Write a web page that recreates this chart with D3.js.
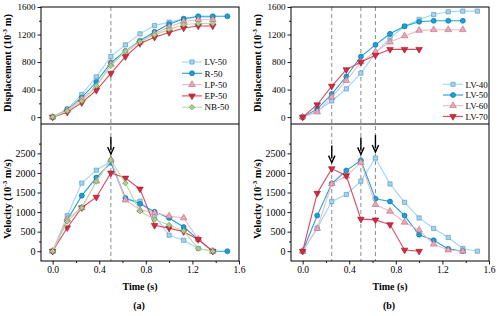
<!DOCTYPE html>
<html>
<head>
<meta charset="utf-8">
<script src="https://cdn.jsdelivr.net/npm/d3@7"></script>
<style>
  body { margin: 0; background: #fff; }
  svg text { font-family: "Liberation Serif", "Times New Roman", serif; fill: #000; }
</style>
</head>
<body>
<div id="graph"></div>
<script>
// time steps shared by every series
var time = [0, 0.125, 0.25, 0.375, 0.5, 0.625, 0.75, 0.875, 1.0, 1.125, 1.25, 1.375, 1.5];

// panel (a) displacement (10^-3 m)
var dispLV50 = [0, 120, 330, 585, 880, 1050, 1210, 1330, 1380, 1425, 1450, 1450];
var dispR50  = [0, 105, 285, 510, 790, 960, 1110, 1240, 1350, 1430, 1465, 1465, 1465];
var dispLP50 = [0, 100, 265, 440, 770, 940, 1090, 1215, 1310, 1390, 1415, 1415];
var dispEP50 = [0, 70, 210, 390, 635, 880, 1070, 1160, 1230, 1295, 1325, 1325];
var dispNB50 = [0, 90, 235, 455, 745, 960, 1095, 1195, 1275, 1345, 1360, 1360];

// panel (a) velocity (10^-3 m/s)
var velLV50 = [0, 910, 1740, 2070, 2300, 1320, 1280, 910, 410, 280, 70, 0];
var velR50  = [0, 800, 1420, 1880, 2260, 1360, 1210, 1010, 850, 620, 300, 0, 0];
var velLP50 = [0, 820, 1110, 1790, 2340, 1310, 1060, 980, 900, 850, 310, 0];
var velEP50 = [0, 600, 1110, 1380, 2000, 1870, 1590, 660, 590, 500, 300, 0];
var velNB50 = [0, 760, 1110, 1780, 2330, 1740, 1020, 810, 670, 520, 70, 0];

// panel (b) displacement
var dispLV40b = [0, 90, 235, 410, 640, 930, 1150, 1320, 1420, 1490, 1530, 1540, 1540];
var dispLV50b = [0, 120, 335, 590, 880, 1050, 1210, 1320, 1385, 1400, 1400, 1400];
var dispLV60b = [0, 75, 290, 530, 800, 950, 1090, 1180, 1260, 1270, 1270, 1270];
var dispLV70b = [0, 180, 450, 690, 800, 900, 985, 985, 985];

// panel (b) velocity
var velLV40b = [0, 590, 1270, 1450, 1790, 2380, 1720, 1250, 850, 580, 350, 70, 0];
var velLV50b = [0, 910, 1730, 2060, 2320, 1340, 1270, 910, 420, 280, 60, 0];
var velLV60b = [0, 580, 1720, 1920, 2270, 1190, 1020, 740, 540, 180, 30, 0];
var velLV70b = [0, 1480, 2110, 1930, 820, 800, 680, 30, 0];

// peak markers (time, peak velocity)
var peakTimesA = [0.5];
var peakValsA = [2330];
var peakTimesB = [0.25, 0.5, 0.625];
var peakValsB = [2110, 2320, 2380];

// ticks
var dispTicks = [0, 400, 800, 1200, 1600];
var dispMinor = [200, 600, 1000, 1400];
var velTicks = [0, 500, 1000, 1500, 2000, 2500];
var velMinor = [250, 750, 1250, 1750, 2250, 2750];
var timeTicks = [0, 0.4, 0.8, 1.2, 1.6];
var timeMinor = [0.2, 0.6, 1.0, 1.4];

var styles = {
  lightBlue: {line: '#9fd7f3', fill: '#a6d3ec', stroke: '#4a93c3', symbol: 'square'},
  blue:      {line: '#1ba3dd', fill: '#1a9fd8', stroke: '#0c6d9b', symbol: 'circle'},
  pink:      {line: '#f4b7c3', fill: '#eaa8b6', stroke: '#b46a7d', symbol: 'up'},
  red:       {line: '#e0475a', fill: '#d42a40', stroke: '#981a2a', symbol: 'down'},
  green:     {line: '#b9dca3', fill: '#a9d08c', stroke: '#6a8b5e', symbol: 'diamond'}
};

var svg = d3.select('#graph').append('svg')
    .attr('width', 500)
    .attr('height', 316);

function symbolPath(kind) {
  var type = kind == 'square' ? d3.symbolSquare
      : kind == 'circle' ? d3.symbolCircle
      : kind == 'diamond' ? d3.symbolSquare
      : d3.symbolTriangle;
  var size = kind == 'circle' ? 20 : kind == 'diamond' ? 15 : kind == 'square' ? 18 : 19;
  return d3.symbol().type(type).size(size)();
}
function symbolRotate(kind) {
  return kind == 'down' ? ' rotate(180)' : kind == 'diamond' ? ' rotate(45)' : '';
}

function drawSeries(g, x, y, series) {
  series.forEach(function(s) {
    var st = styles[s.style];
    var line = d3.line()
        .x(function(d, i) { return x(time[i]); })
        .y(function(d) { return y(d); });
    g.append('path')
        .attr('d', line(s.values))
        .attr('fill', 'none')
        .attr('stroke', st.line)
        .attr('stroke-width', 1.1);
    g.selectAll(null)
        .data(s.values)
      .enter().append('path')
        .attr('d', symbolPath(st.symbol))
        .attr('transform', function(d, i) {
          return 'translate(' + x(time[i]) + ',' + y(d) + ')' + symbolRotate(st.symbol);
        })
        .attr('fill', st.fill)
        .attr('stroke', st.stroke)
        .attr('stroke-width', 0.6);
  });
}

function styleAxis(a, size) {
  a.select('.domain').remove();
  a.selectAll('line').attr('stroke', '#000').attr('stroke-width', 0.9);
  a.selectAll('text').attr('font-size', size).attr('fill', '#000')
      .style('font-family', '"Liberation Serif", "Times New Roman", serif');
}

function drawPanel(p) {
  var left = p.left, right = p.left + 198;
  var top = 7, mid = 124, bottom = 261;
  var x = d3.scaleLinear().domain([-0.1, 1.6]).range([left, right]);
  var yD = d3.scaleLinear().domain([-100, 1600]).range([mid, top]);
  var yV = d3.scaleLinear().domain([-250, 3250]).range([bottom, mid]);
  var g = svg.append('g');

  // axes
  var ax;
  ax = g.append('g').attr('transform', 'translate(' + left + ',0)')
      .call(d3.axisLeft(yD).tickValues(dispTicks).tickSize(3.5).tickPadding(2).tickFormat(d3.format('d')));
  styleAxis(ax, 9);
  ax = g.append('g').attr('transform', 'translate(' + left + ',0)')
      .call(d3.axisLeft(yD).tickValues(dispMinor).tickSize(2).tickFormat(''));
  styleAxis(ax, 9);
  ax = g.append('g').attr('transform', 'translate(' + left + ',0)')
      .call(d3.axisLeft(yV).tickValues(velTicks).tickSize(3.5).tickPadding(2).tickFormat(d3.format('d')));
  styleAxis(ax, 10);
  ax = g.append('g').attr('transform', 'translate(' + left + ',0)')
      .call(d3.axisLeft(yV).tickValues(velMinor).tickSize(2).tickFormat(''));
  styleAxis(ax, 10);
  ax = g.append('g').attr('transform', 'translate(0,' + bottom + ')')
      .call(d3.axisBottom(x).tickValues(timeTicks).tickSize(3.5).tickPadding(2).tickFormat(d3.format('.1f')));
  styleAxis(ax, 9.5);
  ax = g.append('g').attr('transform', 'translate(0,' + bottom + ')')
      .call(d3.axisBottom(x).tickValues(timeMinor).tickSize(2).tickFormat(''));
  styleAxis(ax, 9.5);

  // dashed guides
  g.selectAll(null)
      .data(p.peakTimes)
    .enter().append('line')
      .attr('x1', function(d) { return x(d); })
      .attr('x2', function(d) { return x(d); })
      .attr('y1', top).attr('y2', bottom)
      .attr('stroke', '#8c8c8c')
      .attr('stroke-width', 1)
      .attr('stroke-dasharray', '4,3');

  drawSeries(g, x, yD, p.disp);
  drawSeries(g, x, yV, p.vel);

  // arrows above velocity peaks
  p.peakTimes.forEach(function(t, i) {
    var tip = yV(p.peakVals[i]) - 6;
    var cx = x(t);
    g.append('line')
        .attr('x1', cx).attr('x2', cx)
        .attr('y1', tip - 17).attr('y2', tip - 4)
        .attr('stroke', '#000').attr('stroke-width', 1.4);
    g.append('path')
        .attr('d', 'M' + (cx - 3.2) + ',' + (tip - 7) + 'L' + cx + ',' + tip + 'L' + (cx + 3.2) + ',' + (tip - 7))
        .attr('fill', 'none').attr('stroke', '#000').attr('stroke-width', 1.4);
  });

  // frame
  g.append('rect')
      .attr('x', left).attr('y', top)
      .attr('width', right - left).attr('height', bottom - top)
      .attr('fill', 'none').attr('stroke', '#000').attr('stroke-width', 1);
  g.append('line')
      .attr('x1', left).attr('x2', right)
      .attr('y1', mid).attr('y2', mid)
      .attr('stroke', '#000').attr('stroke-width', 1);

  // legend
  p.disp.forEach(function(s, i) {
    var st = styles[s.style];
    var ly = p.legendY + i * p.legendStep;
    var lx = left + p.legendX;
    g.append('line')
        .attr('x1', lx).attr('x2', lx + 20)
        .attr('y1', ly).attr('y2', ly)
        .attr('stroke', st.line).attr('stroke-width', 1.1);
    g.append('path')
        .attr('d', symbolPath(st.symbol))
        .attr('transform', 'translate(' + (lx + 10) + ',' + ly + ')' + symbolRotate(st.symbol))
        .attr('fill', st.fill).attr('stroke', st.stroke).attr('stroke-width', 0.6);
    g.append('text')
        .attr('x', lx + 22.5).attr('y', ly + 3.2)
        .attr('font-size', 9)
        .text(s.name);
  });

  // axis titles
  var cx = (left + right) / 2;
  var dl = g.append('text')
      .attr('transform', 'translate(' + (left - 30) + ',63) rotate(-90)')
      .attr('text-anchor', 'middle')
      .attr('font-size', 10.5).attr('font-weight', 'bold');
  dl.append('tspan').text('Displacement (10');
  dl.append('tspan').attr('font-size', 7).attr('dy', -4).text('-3');
  dl.append('tspan').attr('dy', 4).text(' m)');

  var vl = g.append('text')
      .attr('transform', 'translate(' + (left - 30) + ',199) rotate(-90)')
      .attr('text-anchor', 'middle')
      .attr('font-size', 10.5).attr('font-weight', 'bold');
  vl.append('tspan').text('Velocity (10');
  vl.append('tspan').attr('font-size', 7).attr('dy', -4).text('-3');
  vl.append('tspan').attr('dy', 4).text(' m/s)');

  g.append('text')
      .attr('x', cx).attr('y', 290)
      .attr('text-anchor', 'middle')
      .attr('font-size', 10).attr('font-weight', 'bold')
      .text('Time (s)');
  g.append('text')
      .attr('x', cx - 1).attr('y', 309)
      .attr('text-anchor', 'middle')
      .attr('font-size', 10).attr('font-weight', 'bold')
      .text(p.label);
}

drawPanel({
  left: 41, label: '(a)',
  disp: [
    {name: 'LV-50', values: dispLV50, style: 'lightBlue'},
    {name: 'R-50', values: dispR50, style: 'blue'},
    {name: 'LP-50', values: dispLP50, style: 'pink'},
    {name: 'EP-50', values: dispEP50, style: 'red'},
    {name: 'NB-50', values: dispNB50, style: 'green'}
  ],
  vel: [
    {name: 'LV-50', values: velLV50, style: 'lightBlue'},
    {name: 'R-50', values: velR50, style: 'blue'},
    {name: 'LP-50', values: velLP50, style: 'pink'},
    {name: 'EP-50', values: velEP50, style: 'red'},
    {name: 'NB-50', values: velNB50, style: 'green'}
  ],
  peakTimes: peakTimesA, peakVals: peakValsA,
  legendX: 141, legendY: 62, legendStep: 11.3
});

drawPanel({
  left: 291, label: '(b)',
  disp: [
    {name: 'LV-40', values: dispLV40b, style: 'lightBlue'},
    {name: 'LV-50', values: dispLV50b, style: 'blue'},
    {name: 'LV-60', values: dispLV60b, style: 'pink'},
    {name: 'LV-70', values: dispLV70b, style: 'red'}
  ],
  vel: [
    {name: 'LV-40', values: velLV40b, style: 'lightBlue'},
    {name: 'LV-50', values: velLV50b, style: 'blue'},
    {name: 'LV-60', values: velLV60b, style: 'pink'},
    {name: 'LV-70', values: velLV70b, style: 'red'}
  ],
  peakTimes: peakTimesB, peakVals: peakValsB,
  legendX: 152, legendY: 84.3, legendStep: 10.7
});
</script>
</body>
</html>
